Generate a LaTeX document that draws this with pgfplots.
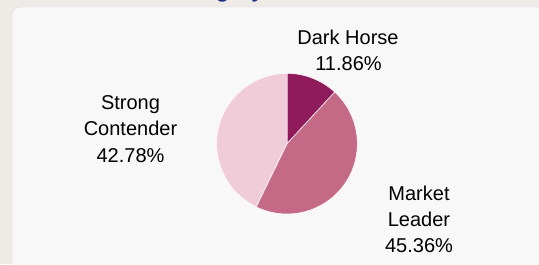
\documentclass[border=0pt]{standalone}
\usepackage{pgfplots}
\pgfplotsset{compat=1.18}
\usepackage{fontspec}
\setmainfont{Liberation Sans}
\definecolor{cDH}{HTML}{8F1B5D}
\definecolor{cML}{HTML}{C46A87}
\definecolor{cSC}{HTML}{F0CCD8}
\definecolor{bgout}{HTML}{EEEAE6}
\definecolor{panel}{HTML}{F8F8F8}
\definecolor{titleblue}{HTML}{1B2F7A}
\newcommand{\lbl}{\fontsize{20bp}{24bp}\selectfont}
\begin{document}
\begin{tikzpicture}[x=1bp,y=1bp]
\useasboundingbox (0,0) rectangle (539,264);
\clip (0,0) rectangle (539,264);
\fill[bgout] (0,0) rectangle (539,264);
\filldraw[fill=panel, draw=black!9, line width=0.8bp, rounded corners=8bp] (12,-20) rectangle (580,257);
\node[anchor=base west, inner sep=0pt, text=titleblue, font=\fontsize{22bp}{26bp}\selectfont\bfseries] at (168,266.5) {Category};
% pie data (percent)
\def\vDH{11.86}\def\vML{45.36}\def\vSC{42.78}
\def\cx{287}\def\cy{120.3}\def\r{70.3}
\pgfmathsetmacro\aA{90}
\pgfmathsetmacro\aB{\aA-360*\vDH/100}
\pgfmathsetmacro\aC{\aB-360*\vML/100}
\pgfmathsetmacro\aD{\aC-360*\vSC/100}
\begin{axis}[at={(0,0)}, anchor=south west, x=1bp, y=1bp,
  xmin=0, xmax=539, ymin=0, ymax=264, hide axis, clip=false]
\fill[cDH, draw=white, line width=0.5bp] (axis cs:\cx,\cy) -- ([shift={(\aA:\r bp)}]axis cs:\cx,\cy) arc[start angle=\aA, end angle=\aB, radius=\r bp] -- cycle;
\fill[cML, draw=white, line width=0.5bp] (axis cs:\cx,\cy) -- ([shift={(\aB:\r bp)}]axis cs:\cx,\cy) arc[start angle=\aB, end angle=\aC, radius=\r bp] -- cycle;
\fill[cSC, draw=white, line width=0.5bp] (axis cs:\cx,\cy) -- ([shift={(\aC:\r bp)}]axis cs:\cx,\cy) arc[start angle=\aC, end angle=\aD, radius=\r bp] -- cycle;
% labels
\node[anchor=base, inner sep=0pt, font=\lbl] at (axis cs:348,220) {Dark Horse};
\node[anchor=base, inner sep=0pt, font=\lbl] at (axis cs:348.5,194) {11.86\%};
\node[anchor=base, inner sep=0pt, font=\lbl] at (axis cs:130.5,155) {Strong};
\node[anchor=base, inner sep=0pt, font=\lbl] at (axis cs:130.5,129) {Contender};
\node[anchor=base, inner sep=0pt, font=\lbl] at (axis cs:130.5,102) {42.78\%};
\node[anchor=base, inner sep=0pt, font=\lbl] at (axis cs:419,64) {Market};
\node[anchor=base, inner sep=0pt, font=\lbl] at (axis cs:419,38) {Leader};
\node[anchor=base, inner sep=0pt, font=\lbl] at (axis cs:419,12) {45.36\%};
\end{axis}
\end{tikzpicture}
\end{document}
